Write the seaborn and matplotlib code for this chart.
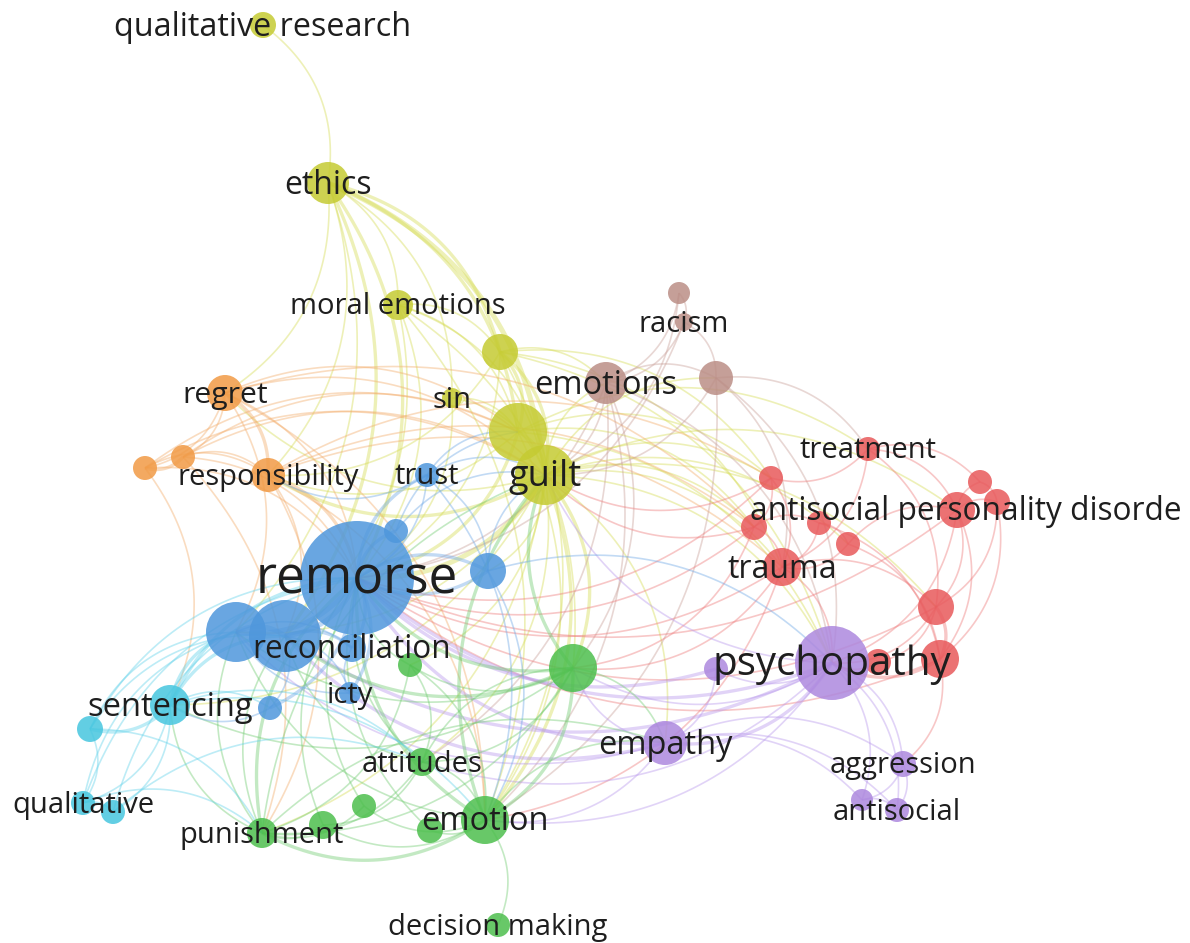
import numpy as np
import pandas as pd
import matplotlib
matplotlib.use('Agg')
import matplotlib.pyplot as plt
from matplotlib.collections import LineCollection
import seaborn as sns

# nodes of the keyword co-occurrence map (pixel layout coordinates)
node_id = ['qr', 'eth', 'me', 'y1', 'sin', 'y2', 'gui',
           'reg', 'o1', 'o2', 'resp',
           'b1', 'rac', 'emo', 'b3',
           'tre', 'r1', 'r2', 'r3', 'r4', 'tra', 'apd', 'r5', 'r6', 'r7', 'r8', 'r9',
           'psy', 'p1', 'emp', 'agg', 'p2', 'ant',
           'g1', 'g2', 'att', 'emn', 'g3', 'g4', 'g5', 'pun', 'dm',
           'sen', 'c1', 'qual', 'c2',
           'rem', 'bl1', 'bl2', 'rec', 'bl3', 'tru', 'bl4', 'bl5', 'icty']
# label text as it appears on the map (the long one is cut short there)
node_label = ['qualitative research', 'ethics', 'moral emotions', '', 'sin', '', 'guilt',
              'regret', '', '', 'responsibility',
              '', 'racism', 'emotions', '',
              'treatment', '', '', '', '', 'trauma', 'antisocial personality disorde', '', '', '', '', '',
              'psychopathy', '', 'empathy', 'aggression', '', 'antisocial',
              '', '', 'attitudes', 'emotion', '', '', '', 'punishment', 'decision making',
              'sentencing', '', 'qualitative', '',
              'remorse', '', '', 'reconciliation', '', 'trust', '', '', 'icty']
node_x = [263, 328, 398, 500, 452, 518, 545,
          225, 183, 145, 268,
          679, 684, 606, 716,
          868, 771, 754, 819, 848, 782, 957, 980, 997, 936, 940, 878,
          832, 716, 665, 903, 862, 897,
          573, 410, 422, 485, 430, 364, 323, 262, 498,
          170, 90, 83, 113,
          357, 236, 285, 352, 396, 427, 488, 270, 350]
node_y = [25, 183, 305, 352, 398, 432, 475,
          393, 457, 468, 475,
          293, 322, 383, 378,
          449, 478, 527, 523, 544, 567, 510, 482, 502, 607, 659, 662,
          663, 669, 743, 764, 800, 810,
          668, 665, 762, 820, 830, 806, 825, 833, 925,
          705, 729, 803, 812,
          578, 632, 636, 648, 531, 475, 571, 708, 693]
node_r = [13, 21, 15, 18, 10, 29, 30,
          18, 12, 12, 17,
          11, 9, 21, 17,
          12, 12, 13, 12, 12, 19, 18, 12, 13, 18, 19, 13,
          37, 12, 22, 13, 11, 12,
          24, 12, 14, 24, 13, 12, 14, 15, 12,
          20, 13, 12, 12,
          57, 30, 36, 14, 12, 12, 18, 12, 11]
node_cluster = ['yellow'] * 7 + ['orange'] * 4 + ['brown'] * 4 + ['red'] * 12 + \
               ['purple'] * 6 + ['green'] * 9 + ['cyan'] * 4 + ['blue'] * 9
label_size = {'remorse': 37, 'psychopathy': 29, 'guilt': 26, 'emotion': 23.5,
              'emotions': 23.5, 'sentencing': 23.5, 'reconciliation': 22.7, 'ethics': 23,
              'trauma': 23, 'empathy': 23.5, 'qualitative research': 23.3,
              'antisocial personality disorde': 22.8, 'regret': 21.7}
label_dx = {'antisocial personality disorde': 9}

# links: source, target, strength
edge_src = ['qr', 'eth', 'eth', 'eth', 'eth', 'eth', 'eth', 'eth', 'eth', 'eth', 'eth',
            'me', 'me', 'me', 'me', 'me', 'me', 'me',
            'y1', 'y1', 'y1', 'y1', 'y1', 'y1', 'y1', 'y1', 'y1',
            'sin', 'sin', 'sin',
            'y2', 'y2', 'y2', 'y2', 'y2', 'y2', 'y2', 'y2',
            'gui', 'gui', 'gui', 'gui', 'gui', 'gui', 'gui', 'gui', 'gui', 'gui', 'gui',
            'gui', 'gui', 'gui', 'gui', 'gui', 'gui', 'gui', 'gui', 'gui', 'gui',
            'reg', 'reg', 'reg', 'reg', 'reg', 'reg', 'reg', 'reg', 'reg',
            'o1', 'o1', 'o1', 'o1', 'o1', 'o1', 'o2', 'o2', 'o2', 'o2', 'o2',
            'resp', 'resp', 'resp', 'resp', 'resp', 'resp', 'resp',
            'b1', 'rac', 'rac', 'b1', 'b1', 'rac',
            'emo', 'emo', 'emo', 'emo', 'emo', 'emo', 'emo',
            'b3', 'b3', 'b3', 'b3', 'b3',
            'tre', 'tre', 'tre', 'tre', 'tre',
            'r1', 'r1', 'r1', 'r1', 'r2', 'r2', 'r2', 'r2',
            'r3', 'r3', 'r3', 'r4', 'r4', 'r4',
            'tra', 'tra', 'tra', 'tra', 'tra',
            'apd', 'apd', 'apd', 'apd', 'apd', 'r5', 'r6', 'r6',
            'r7', 'r7', 'r7', 'r8', 'r8', 'r9', 'r8', 'apd', 'r7', 'r2',
            'psy', 'psy', 'psy', 'psy', 'psy', 'psy', 'psy', 'psy', 'psy', 'psy', 'psy',
            'p1', 'p1',
            'emp', 'emp', 'emp', 'emp', 'emp', 'emp', 'emp', 'emp',
            'agg', 'agg', 'p2',
            'g1', 'g1', 'g1', 'g1', 'g1', 'g1', 'g1', 'g1', 'g1', 'g1',
            'g2', 'g2', 'g2', 'g2',
            'att', 'att', 'att', 'att', 'att', 'att',
            'emn', 'emn', 'emn', 'emn', 'emn', 'emn', 'emn', 'emn', 'emn',
            'g3', 'g4', 'g4', 'g5', 'g5',
            'pun', 'pun', 'pun', 'pun', 'pun', 'pun',
            'sen', 'sen', 'sen', 'sen', 'sen', 'sen', 'sen', 'sen', 'sen',
            'c1', 'c1', 'c1', 'c1', 'c1',
            'qual', 'qual', 'c2', 'c2', 'qual', 'qual',
            'rem', 'rem', 'rem', 'rem', 'rem', 'rem', 'rem', 'rem',
            'bl1', 'bl2', 'bl1', 'bl2', 'bl2',
            'tru', 'tru', 'tru', 'tru', 'tru', 'tru',
            'bl3', 'bl3',
            'bl4', 'bl4', 'bl4', 'bl4',
            'bl5', 'icty', 'icty']
edge_dst = ['eth', 'me', 'y1', 'y2', 'gui', 'rem', 'sin', 'reg', 'bl2', 'bl1', 'resp',
            'y2', 'gui', 'rem', 'emn', 'y1', 'g1', 'bl2',
            'gui', 'y2', 'rem', 'emo', 'tra', 'emn', 'resp', 'r1', 'psy',
            'gui', 'rem', 'y2',
            'gui', 'rem', 'r2', 'tre', 'resp', 'emn', 'r1', 'psy',
            'rem', 'emn', 'g1', 'psy', 'r1', 'r2', 'tra', 'emo', 'b3', 'reg', 'resp',
            'bl1', 'att', 'pun', 'r7', 'emp', 'sen', 'bl4', 'g2', 'apd', 'r4',
            'o1', 'o2', 'resp', 'rem', 'y2', 'bl1', 'gui', 'emn', 'r2',
            'o2', 'resp', 'rem', 'gui', 'pun', 'y2', 'resp', 'rem', 'y2', 'sen', 'gui',
            'rem', 'bl2', 'emn', 'pun', 'r2', 'tra', 'r1',
            'rac', 'emo', 'b3', 'gui', 'emo', 'rem',
            'gui', 'rem', 'b3', 'emn', 'g1', 'psy', 'att',
            'tre', 'tra', 'gui', 'emn', 'psy',
            'r1', 'r5', 'apd', 'tra', 'r7',
            'gui', 'tra', 'r2', 'rem', 'tra', 'rem', 'gui', 'r3',
            'tra', 'r4', 'r8', 'apd', 'tra', 'r8',
            'psy', 'rem', 'emn', 'r7', 'g1',
            'r5', 'r6', 'r7', 'psy', 'r8', 'r6', 'r7', 'r8',
            'r8', 'psy', 'r9', 'psy', 'agg', 'psy', 'rem', 'rem', 'rem', 'g1',
            'p1', 'emp', 'agg', 'ant', 'p2', 'rem', 'emn', 'g1', 'gui', 'att', 'bl2',
            'emp', 'rem',
            'rem', 'emn', 'agg', 'ant', 'bl2', 'g1', 'p2', 'bl1',
            'ant', 'p2', 'ant',
            'rem', 'emn', 'bl2', 'att', 'pun', 'g2', 'gui', 'emp', 'sen', 'bl1',
            'rem', 'emn', 'pun', 'att',
            'rem', 'emn', 'pun', 'g5', 'g1', 'bl2',
            'rem', 'dm', 'pun', 'g3', 'g4', 'g5', 'bl1', 'gui', 'emp',
            'rem', 'rem', 'pun', 'rem', 'pun',
            'rem', 'bl1', 'sen', 'gui', 'emp', 'bl2',
            'c1', 'bl1', 'rem', 'bl2', 'qual', 'c2', 'bl5', 'att', 'emn',
            'rem', 'qual', 'bl2', 'bl1', 'pun',
            'c2', 'rem', 'rem', 'att', 'bl1', 'pun',
            'bl1', 'bl2', 'rec', 'bl3', 'tru', 'bl4', 'bl5', 'icty',
            'bl2', 'rec', 'rec', 'bl5', 'icty',
            'gui', 'bl4', 'rem', 'resp', 'y2', 'emn',
            'gui', 'y2',
            'gui', 'rem', 'psy', 'emn',
            'sen', 'rec', 'bl1']
edge_w = [1, 1, 2, 2, 3, 2, 1, 1, 2, 1, 1,
          1, 1, 1, 1, 1, 1, 1,
          2, 2, 1, 1, 1, 1, 1, 1, 1,
          1, 1, 1,
          2, 2, 1, 1, 1, 1, 1, 1,
          3, 2, 2, 1, 1, 1, 1, 1, 1, 1, 2,
          1, 1, 1, 1, 1, 1, 1, 1, 1, 1,
          1, 1, 2, 1, 1, 1, 1, 1, 1,
          2, 1, 1, 1, 1, 1, 1, 1, 1, 1, 1,
          2, 1, 1, 1, 1, 1, 1,
          1, 1, 1, 1, 1, 1,
          1, 1, 1, 1, 1, 1, 1,
          1, 1, 1, 1, 1,
          1, 1, 1, 1, 1,
          1, 1, 1, 1, 1, 1, 1, 1,
          1, 1, 1, 1, 1, 1,
          1, 1, 1, 1, 1,
          1, 1, 1, 1, 1, 1, 1, 1,
          2, 1, 1, 2, 1, 1, 1, 1, 1, 1,
          1, 2, 1, 1, 1, 2, 1, 1, 1, 1, 2,
          1, 2,
          2, 1, 1, 1, 2, 1, 1, 1,
          1, 1, 1,
          2, 2, 2, 1, 1, 1, 2, 1, 1, 1,
          1, 1, 1, 1,
          1, 1, 1, 1, 1, 1,
          2, 1, 2, 1, 1, 1, 1, 2, 1,
          1, 1, 1, 1, 1,
          2, 1, 1, 1, 1, 1,
          2, 2, 2, 2, 1, 1, 1, 1, 1,
          1, 1, 1, 1, 1,
          1, 1, 1, 1, 1, 1,
          3, 3, 2, 2, 2, 2, 2, 2,
          3, 2, 1, 1, 1,
          1, 1, 1, 1, 1, 1,
          1, 1,
          1, 2, 1, 1,
          1, 1, 1]

palette = {'red': '#e8595b', 'green': '#4dbf4d', 'blue': '#4f97dc',
           'yellow': '#c5cb32', 'purple': '#ad88de', 'cyan': '#47c6df',
           'orange': '#f19a45', 'brown': '#bb8e86'}
edge_palette = {'red': '#ee7a7a', 'green': '#72cc72', 'blue': '#6ea8e6',
                'yellow': '#d6dc55', 'purple': '#b898ec', 'cyan': '#62d2ea',
                'orange': '#f3ac6a', 'brown': '#c9a099'}

nodes = pd.DataFrame({'id': node_id, 'label': node_label, 'x': node_x, 'y': node_y,
                      'r': node_r, 'cluster': node_cluster})
# marker area in pt^2 from radius in px (dpi 100)
nodes['area'] = (2 * nodes['r'] * 0.72) ** 2
pos = nodes.set_index('id')

sns.set_style('white')
plt.rcParams['font.family'] = ['Open Sans', 'DejaVu Sans']

fig = plt.figure(figsize=(11.9, 9.43), dpi=100)
ax = fig.add_axes([0, 0, 1, 1])

# curved links
segs, cols, widths = [], [], []
t = np.linspace(0, 1, 50)[:, None]
for s, d, w in zip(edge_src, edge_dst, edge_w):
    p0 = pos.loc[s, ['x', 'y']].to_numpy(float)
    p2 = pos.loc[d, ['x', 'y']].to_numpy(float)
    v = p2 - p0
    ctrl = (p0 + p2) / 2 + 0.3 * np.array([v[1], -v[0]])
    curve = (1 - t) ** 2 * p0 + 2 * (1 - t) * t * ctrl + t ** 2 * p2
    segs.append(curve)
    cols.append(edge_palette[pos.loc[s, 'cluster']])
    widths.append(1.2 + 1.2 * (w - 1))
lc = LineCollection(segs, colors=cols, linewidths=widths, alpha=0.42, zorder=1)
ax.add_collection(lc)

amin, amax = nodes['area'].min(), nodes['area'].max()
sns.scatterplot(data=nodes, x='x', y='y', hue='cluster', palette=palette,
                size='area', sizes=(amin, amax), size_norm=(amin, amax),
                alpha=0.85, linewidth=0, legend=False, ax=ax, zorder=2)

for _, row in nodes.iterrows():
    if row['label']:
        ax.text(row['x'] + label_dx.get(row['label'], 0), row['y'] + 2, row['label'],
                fontsize=label_size.get(row['label'], 21), color='#1e1e1e',
                ha='center', va='center', zorder=3)

ax.set_xlim(0, 1190)
ax.set_ylim(943, 0)
ax.set_axis_off()

plt.savefig('out.png', dpi=100)
